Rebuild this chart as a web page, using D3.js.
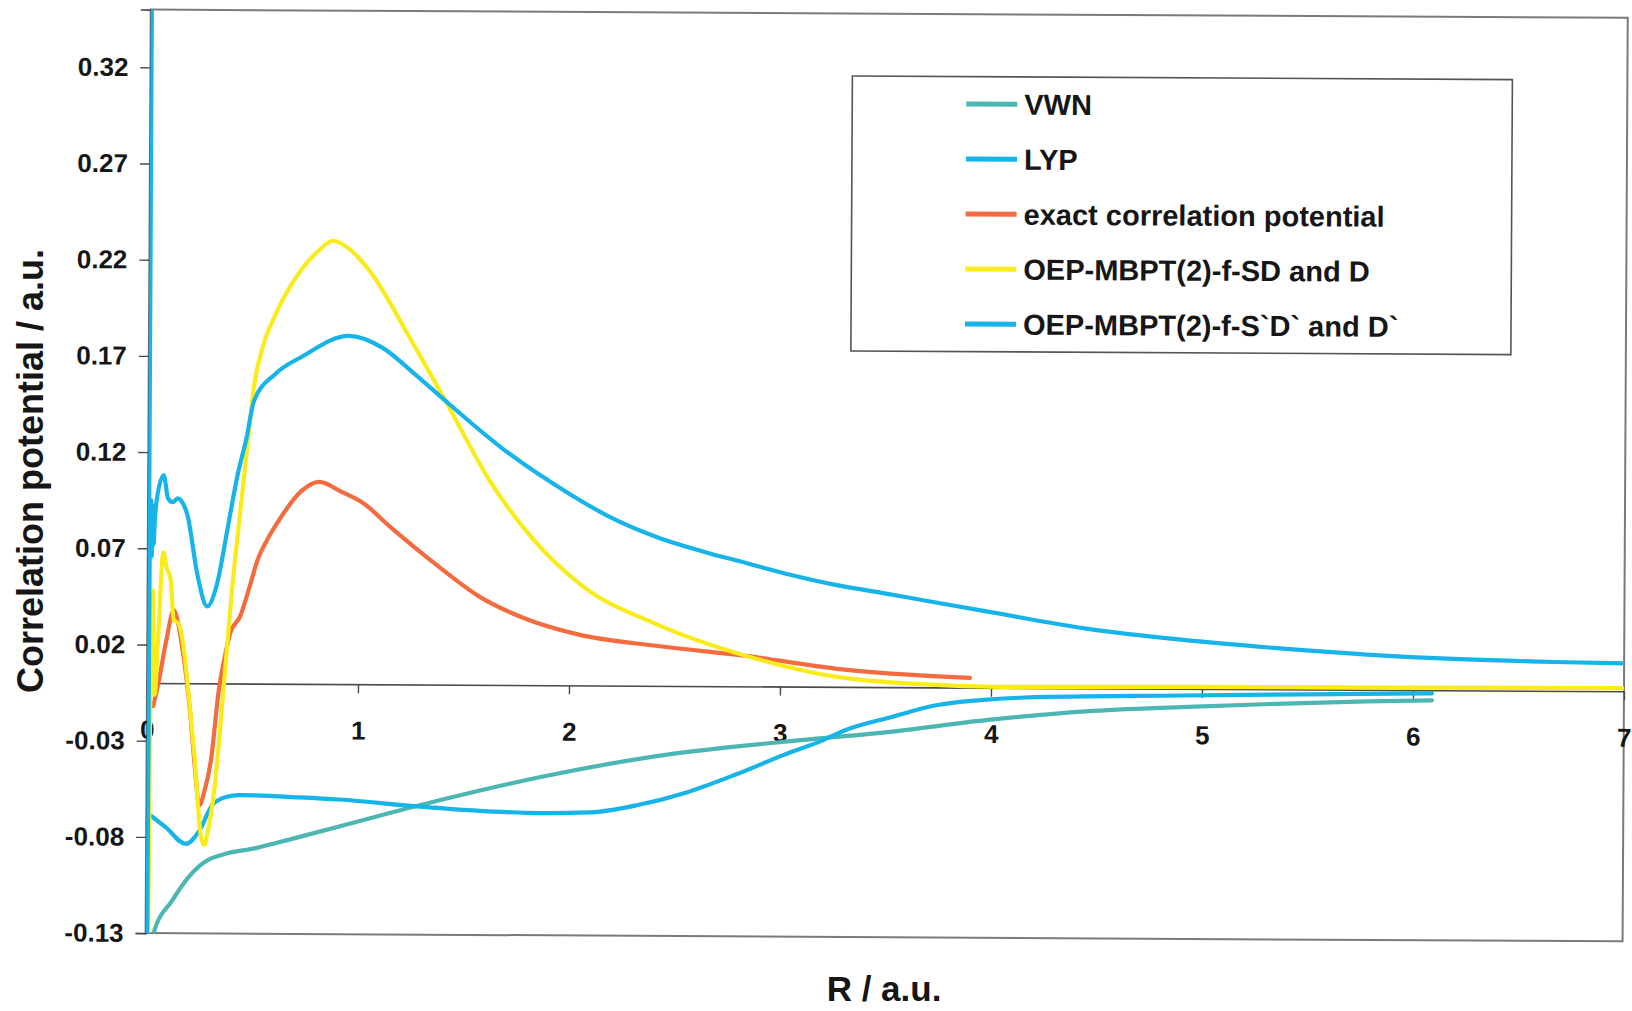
<!DOCTYPE html>
<html>
<head>
<meta charset="utf-8">
<script src="https://cdn.jsdelivr.net/npm/d3@7"></script>
<style>
    body { margin: 0; background: #fff; }
    text { font-family: "Liberation Sans", Arial, sans-serif; font-weight: bold; fill: #161616; }
</style>
</head>
<body>
<div id="chart"></div>
<script>
// [R, potential] pairs
const vwn = [[0.03,-0.135],[0.038,-0.13],[0.125,-0.113],[0.204,-0.1005],[0.283,-0.0925],[0.362,-0.089],
    [0.52,-0.0855],[0.678,-0.081],[0.915,-0.074],[1.3,-0.0626],[1.874,-0.0476],[2.45,-0.036],[3.02,-0.0287],
    [3.5,-0.0235],[4.01,-0.0165],[4.45,-0.012],[4.9,-0.0095],[5.34,-0.0076],[5.78,-0.006],[6.09,-0.0053]];

const lyp = [[0.022,-0.069],[0.093,-0.075],[0.188,-0.0835],[0.25,-0.077],[0.314,-0.063],[0.377,-0.059],
    [0.44,-0.058],[0.725,-0.059],[0.915,-0.06],[1.3,-0.0635],[1.874,-0.0665],[2.1,-0.066],[2.33,-0.062],
    [2.56,-0.0553],[2.79,-0.046],[3.02,-0.0355],[3.2,-0.028],[3.31,-0.0225],[3.53,-0.0155],[3.74,-0.0093],
    [3.95,-0.0065],[4.16,-0.005],[4.9,-0.0035],[5.5,-0.0025],[6.09,-0.0017]];

const exact = [[0.03,-0.012],[0.054,0.0],[0.09,0.022],[0.126,0.038],[0.14,0.034],[0.164,0.02],[0.204,-0.014],
    [0.23,-0.045],[0.251,-0.0635],[0.275,-0.056],[0.305,-0.04],[0.34,-0.004],[0.37,0.015],[0.393,0.026],
    [0.44,0.035],[0.488,0.052],[0.52,0.064],[0.567,0.075],[0.63,0.0865],[0.725,0.1],[0.81,0.105],[0.915,0.1],
    [1.021,0.094],[1.147,0.082],[1.36,0.063],[1.571,0.046],[1.78,0.035],[2.04,0.0265],[2.42,0.0207],
    [2.84,0.0158],[3.26,0.0095],[3.9,0.005]];

const oepSD = [[0.012,-0.14],[0.016,-0.004],[0.021,0.0],[0.026,0.048],[0.031,0.005],[0.036,-0.006],[0.05,0.02],
    [0.074,0.068],[0.09,0.06],[0.109,0.054],[0.125,0.033],[0.148,0.031],[0.172,0.019],[0.196,-0.004],
    [0.227,-0.038],[0.26,-0.08],[0.275,-0.084],[0.29,-0.078],[0.322,-0.055],[0.362,-0.004],[0.4,0.048],
    [0.44,0.092],[0.473,0.127],[0.5,0.155],[0.54,0.175],[0.6,0.192],[0.7,0.212],[0.8,0.225],[0.869,0.2304],
    [0.95,0.226],[1.043,0.215],[1.232,0.181],[1.42,0.145],[1.614,0.107],[1.825,0.076],[2.057,0.052],
    [2.42,0.0317],[2.84,0.0158],[3.26,0.0053],[3.69,0.0015],[4.04,0.0005],[5,0.001],[6,0.0013],[7,0.0016]];

const oepSpDp = [[0.005,0.37],[0.007,-0.14],[0.01,0.09],[0.013,0.068],[0.016,0.095],[0.019,0.066],[0.023,0.092],
    [0.027,0.072],[0.033,0.085],[0.045,0.098],[0.074,0.108],[0.095,0.096],[0.117,0.094],[0.14,0.096],
    [0.156,0.095],[0.188,0.087],[0.235,0.057],[0.283,0.04],[0.33,0.052],[0.377,0.08],[0.425,0.109],
    [0.464,0.127],[0.5,0.147],[0.6,0.161],[0.725,0.17],[0.947,0.181],[1.106,0.175],[1.254,0.162],
    [1.423,0.146],[1.677,0.123],[1.99,0.1],[2.2,0.087],[2.42,0.077],[2.63,0.07],[2.84,0.064],[3.05,0.058],
    [3.26,0.053],[3.48,0.049],[3.69,0.045],[4.01,0.039],[4.45,0.031],[4.9,0.0255],[5.34,0.0215],
    [5.78,0.0183],[6.22,0.0162],[6.67,0.015],[7,0.0145]];

const seriesNames = ["VWN", "LYP", "exact correlation potential", "OEP-MBPT(2)-f-SD and D", "OEP-MBPT(2)-f-S`D` and D`"];
const seriesColors = ["#4cb6b3", "#17b4ea", "#f36b3e", "#f9ec1a", "#17b4ea"];
const seriesData = [vwn, lyp, exact, oepSD, oepSpDp];

const yTicks = [-0.13, -0.08, -0.03, 0.02, 0.07, 0.12, 0.17, 0.22, 0.27, 0.32];
const xTicks = [0, 1, 2, 3, 4, 5, 6, 7];

const width = 1632, height = 1011;

const svg = d3.select("#chart").append("svg")
    .attr("width", width)
    .attr("height", height);

const x = d3.scaleLinear().domain([0, 7]).range([0, 1477]);
const y = d3.scaleLinear().domain([-0.13, 0.35]).range([250.1, -673.4]);

// the scan is slightly skewed, so the plot sits rotated around its origin
const plot = svg.append("g")
    .attr("transform", "translate(147,683) rotate(0.32)");

plot.append("rect")
    .attr("x", 0)
    .attr("y", y(0.35))
    .attr("width", x(7))
    .attr("height", y(-0.13) - y(0.35))
    .attr("fill", "#fff")
    .attr("stroke", "#7a7a7a")
    .attr("stroke-width", 2);

plot.append("clipPath").attr("id", "clip")
    .append("rect")
    .attr("x", 0)
    .attr("y", y(0.35))
    .attr("width", x(7))
    .attr("height", y(-0.13) - y(0.35));

const fmt = d3.format(".2f");
const yAxis = plot.append("g")
    .call(d3.axisLeft(y).tickValues(yTicks).tickSize(10).tickPadding(12)
        .tickFormat(d => fmt(d).replace("\u2212", "-")));
yAxis.selectAll("text").style("font-size", "26px").attr("fill", "#161616");

const xAxis = plot.append("g")
    .attr("transform", "translate(0," + y(0) + ")")
    .call(d3.axisBottom(x).tickValues(xTicks).tickSize(9).tickSizeOuter(0).tickPadding(28).tickFormat(d3.format("d")));
xAxis.selectAll("text").style("font-size", "26px").attr("fill", "#161616");

plot.selectAll(".domain").attr("stroke", "#4a4a4a").attr("stroke-width", 1.6);
plot.selectAll(".tick line").attr("stroke", "#4a4a4a").attr("stroke-width", 1.4);

const line = d3.line()
    .x(d => x(d[0]))
    .y(d => y(d[1]))
    .curve(d3.curveMonotoneX);

plot.append("g")
    .attr("clip-path", "url(#clip)")
    .selectAll("path")
    .data(seriesData)
    .enter().append("path")
        .attr("d", line)
        .attr("fill", "none")
        .attr("stroke", (d, i) => seriesColors[i])
        .attr("stroke-width", 4.2)
        .attr("stroke-linejoin", "round")
        .attr("stroke-linecap", "round");

// legend
const legend = plot.append("g").attr("transform", "translate(702,-611)");
legend.append("rect")
    .attr("width", 660)
    .attr("height", 275)
    .attr("fill", "#fff")
    .attr("stroke", "#555")
    .attr("stroke-width", 1.6);

const items = legend.selectAll(".item")
    .data(seriesNames)
    .enter().append("g")
        .attr("class", "item")
        .attr("transform", (d, i) => "translate(0," + (27.4 + i * 55) + ")");
items.append("line")
    .attr("x1", 114).attr("x2", 165)
    .attr("stroke", (d, i) => seriesColors[i])
    .attr("stroke-width", 5);
items.append("text")
    .attr("x", 172)
    .attr("dy", "0.36em")
    .style("font-size", "29px")
    .text(d => d);

svg.append("text")
    .attr("transform", "translate(43,471) rotate(-90)")
    .attr("text-anchor", "middle")
    .style("font-size", "36px")
    .text("Correlation potential / a.u.");

svg.append("text")
    .attr("x", 884)
    .attr("y", 1001)
    .attr("text-anchor", "middle")
    .style("font-size", "35px")
    .text("R / a.u.");
</script>
</body>
</html>
